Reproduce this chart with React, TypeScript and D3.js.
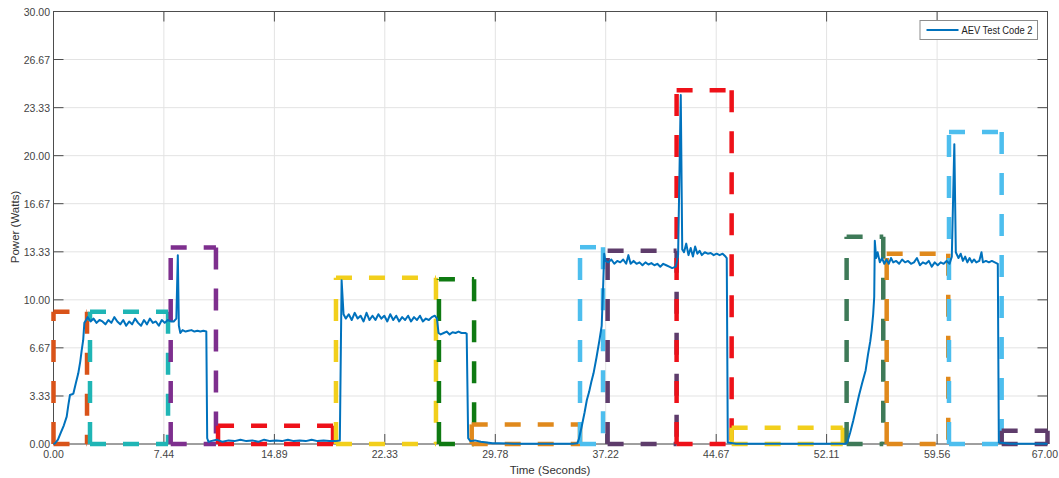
import React from 'react';
import * as d3 from 'd3';

// tick labels as shown on the axes
const xTickLabels = ['0.00', '7.44', '14.89', '22.33', '29.78', '37.22', '44.67', '52.11', '59.56', '67.00'];
const yTickLabels = ['0.00', '3.33', '6.67', '10.00', '13.33', '16.67', '20.00', '23.33', '26.67', '30.00'];

// measured trace [time s, power W], split per phase
const rampUp1 = [
  [0.0, 0.0], [0.1, 0.05], [0.3, 0.3], [0.5, 0.8], [0.7, 1.3], [0.89, 1.9], [1.0, 2.7], [1.11, 3.4],
  [1.25, 3.45], [1.34, 3.5], [1.5, 4.2], [1.67, 4.9], [1.8, 5.7], [1.9, 6.5], [2.0, 7.2], [2.08, 8.4], [2.2, 8.6],
];
const cruise1 = [
  [2.3, 8.8], [2.5, 8.5], [2.7, 8.7], [2.9, 8.4], [3.1, 8.6], [3.3, 8.5], [3.5, 8.3], [3.7, 8.6], [3.9, 8.4],
  [4.1, 8.8], [4.3, 8.5], [4.5, 8.3], [4.7, 8.6], [4.9, 8.2], [5.1, 8.5], [5.3, 8.3], [5.5, 8.7], [5.7, 8.4],
  [5.9, 8.2], [6.1, 8.6], [6.3, 8.3], [6.5, 8.7], [6.7, 8.4], [6.9, 8.5], [7.1, 8.2], [7.3, 8.6], [7.5, 8.4],
  [7.7, 8.6], [7.9, 8.5], [8.1, 8.5], [8.28, 8.7], [8.38, 13.1], [8.45, 8.2], [8.55, 7.7],
];
const cruise2 = [
  [8.7, 7.9], [8.9, 7.8], [9.1, 7.85], [9.3, 7.9], [9.5, 7.8], [9.7, 7.85], [9.9, 7.8], [10.1, 7.85], [10.3, 7.8],
  [10.36, 0.4], [10.45, 0.15],
];
const idle1 = [
  [10.6, 0.2], [11.0, 0.3], [11.4, 0.15], [11.8, 0.25], [12.2, 0.2], [12.6, 0.3], [13.0, 0.2], [13.4, 0.25],
  [13.8, 0.15], [14.2, 0.3], [14.6, 0.2], [15.0, 0.25], [15.4, 0.2], [15.8, 0.3], [16.2, 0.2], [16.6, 0.25],
  [17.0, 0.2], [17.4, 0.3], [17.8, 0.2], [18.2, 0.25], [18.6, 0.2], [19.0, 0.2], [19.3, 0.25], [19.42, 11.35], [19.55, 9.0],
];
const cruise3 = [
  [19.7, 8.7], [19.9, 9.0], [20.1, 8.6], [20.3, 9.1], [20.5, 8.7], [20.7, 8.9], [20.9, 8.5], [21.1, 9.1],
  [21.3, 8.6], [21.5, 8.9], [21.7, 8.6], [21.9, 9.0], [22.1, 8.7], [22.3, 8.9], [22.5, 8.5], [22.7, 9.0],
  [22.9, 8.6], [23.1, 8.9], [23.3, 8.5], [23.5, 8.8], [23.7, 8.6], [23.9, 8.9], [24.1, 8.5], [24.3, 8.8],
  [24.5, 8.6], [24.7, 8.9], [24.9, 8.5], [25.1, 8.7], [25.3, 8.6], [25.5, 8.8], [25.7, 8.9], [25.85, 8.7], [25.95, 7.7],
];
const cruise4 = [
  [26.1, 7.6], [26.3, 7.7], [26.5, 7.8], [26.7, 7.6], [26.9, 7.75], [27.1, 7.7], [27.3, 7.8], [27.5, 7.7],
  [27.75, 7.7], [27.85, 7.65], [27.95, 0.4], [28.1, 0.2],
];
const idle2 = [
  [28.4, 0.25], [28.8, 0.15], [29.2, 0.1], [29.6, 0.05], [30.0, 0.05], [31.0, 0.02], [32.0, 0.02], [33.0, 0.02],
  [34.0, 0.02], [35.0, 0.02], [35.3, 0.05],
];
const rampUp2 = [
  [35.4, 0.3], [35.6, 1.2], [35.8, 2.2], [35.95, 3.05], [36.1, 3.6], [36.25, 4.3], [36.4, 4.9], [36.6, 6.0],
  [36.8, 7.2], [36.95, 8.2], [37.05, 11.0], [37.12, 13.2], [37.2, 12.7],
];
const cruise5 = [
  [37.4, 12.6], [37.6, 12.8], [37.8, 12.5], [38.0, 12.7], [38.2, 12.6], [38.4, 12.8], [38.6, 12.5], [38.75, 13.1],
  [38.9, 12.5], [39.1, 12.7], [39.3, 12.5], [39.5, 12.6], [39.7, 12.4], [39.9, 12.6], [40.1, 12.45], [40.3, 12.55],
  [40.5, 12.4], [40.7, 12.5], [40.9, 12.3], [41.1, 12.5], [41.3, 12.4], [41.5, 12.3], [41.7, 12.2], [41.95, 12.3],
  [42.1, 13.1], [42.28, 24.2], [42.38, 13.5],
];
const cruise6 = [
  [42.5, 13.3], [42.65, 13.9], [42.8, 13.1], [42.95, 13.6], [43.1, 13.0], [43.25, 13.7], [43.4, 13.2], [43.55, 13.4],
  [43.7, 13.1], [43.9, 13.3], [44.1, 13.2], [44.3, 13.25], [44.5, 13.1], [44.7, 13.2], [44.9, 13.1], [45.1, 13.2],
  [45.3, 13.0], [45.38, 12.9], [45.45, 0.1],
];
const idle3 = [[46.0, 0.02], [48.0, 0.02], [50.0, 0.02], [52.0, 0.02], [53.4, 0.02]];
const rampUp3 = [
  [53.5, 0.1], [53.7, 0.8], [53.9, 1.6], [54.07, 2.36], [54.3, 3.4], [54.5, 4.2], [54.74, 5.1], [54.9, 6.2],
  [55.05, 7.1], [55.15, 7.9], [55.25, 9.0], [55.32, 10.2], [55.36, 14.1], [55.45, 12.9],
];
const cruise7 = [
  [55.55, 13.3], [55.7, 12.6], [55.85, 12.9], [56.0, 12.5], [56.15, 12.8], [56.3, 12.5], [56.45, 12.9], [56.6, 12.6],
  [56.8, 12.7], [57.0, 12.5], [57.2, 12.8], [57.4, 12.6], [57.6, 12.7], [57.8, 12.5], [58.0, 12.6], [58.2, 12.9],
  [58.4, 12.4], [58.6, 12.6], [58.8, 12.5], [59.0, 12.7], [59.2, 12.3], [59.4, 12.6], [59.6, 12.4], [59.8, 12.6],
  [60.0, 12.5], [60.2, 12.7], [60.4, 12.5], [60.55, 13.0], [60.72, 20.8], [60.82, 13.3],
];
const cruise8 = [
  [61.0, 12.9], [61.15, 13.2], [61.3, 12.7], [61.45, 13.0], [61.6, 12.6], [61.75, 12.9], [61.9, 12.6], [62.05, 12.8],
  [62.2, 12.6], [62.4, 12.7], [62.55, 13.3], [62.65, 12.6], [62.85, 12.7], [63.05, 12.6], [63.25, 12.7], [63.45, 12.6],
  [63.65, 12.5], [63.72, 0.1], [64.5, 0.02], [66.0, 0.02], [67.0, 0.02],
];

// dashed phase windows: start s, end s, height W
const phaseStart = [0.0, 2.46, 7.9, 11.09, 19.04, 25.98, 28.19, 35.49, 37.35, 42.0, 45.71, 53.46, 56.16, 60.36, 63.91];
const phaseEnd = [2.26, 7.72, 10.95, 18.84, 25.78, 28.35, 35.49, 37.04, 42.0, 45.71, 53.2, 55.93, 60.31, 63.91, 67.0];
const phaseTop = [9.17, 9.17, 13.63, 1.27, 11.53, 11.43, 1.36, 13.65, 13.4, 24.53, 1.13, 14.37, 13.2, 21.64, 0.92];
const phaseColor = [
  '#d95319', '#1fb5b5', '#7e2f8e', '#ee1119', '#f2cf1c', '#0f7a12', '#e0891c', '#4dbeee',
  '#5e3c6b', '#ee1119', '#f2cf1c', '#3e7a58', '#e0891c', '#4dbeee', '#5e3c6b',
];

const trace = [
  ...rampUp1, ...cruise1, ...cruise2, ...idle1, ...cruise3, ...cruise4, ...idle2, ...rampUp2,
  ...cruise5, ...cruise6, ...idle3, ...rampUp3, ...cruise7, ...cruise8,
];

const W = 1059;
const H = 478;
const left = 53.5, right = 1047.5, top = 11.5, bottom = 444;

export default function App() {
  const x = d3.scaleLinear().domain([0, 67]).range([left, right]);
  const y = d3.scaleLinear().domain([0, 30]).range([bottom, top]);
  const line = d3.line<number[]>().x(d => x(d[0])).y(d => y(d[1]));
  const font = '"Liberation Sans", Arial, sans-serif';
  const frame = '#4d4d4d';
  const vDash = '22 19';
  const hDash = '16 17';

  return (
    <svg width={W} height={H} style={{ position: 'absolute', left: 0, top: 0, background: '#fff' }}>
      <rect x={0} y={0} width={W} height={H} fill="#fff" />
      {/* grid */}
      {xTickLabels.map(t => (
        <line key={'gx' + t} x1={x(+t)} x2={x(+t)} y1={top} y2={bottom} stroke="#e3e3e3" />
      ))}
      {yTickLabels.map(t => (
        <line key={'gy' + t} x1={left} x2={right} y1={y(+t)} y2={y(+t)} stroke="#e3e3e3" />
      ))}
      {/* frame and ticks */}
      <rect x={left} y={top} width={right - left} height={bottom - top} fill="none" stroke={frame} />
      {xTickLabels.map((t, i) => {
        const last = i === xTickLabels.length - 1;
        return (
          <g key={'tx' + t}>
            <line x1={x(+t)} x2={x(+t)} y1={bottom} y2={bottom - 10} stroke={frame} />
            <line x1={x(+t)} x2={x(+t)} y1={top} y2={top + 10} stroke={frame} />
            <text x={last ? W - 1 : x(+t)} y={458} textAnchor={last ? 'end' : 'middle'}
              fontFamily={font} fontSize={10.5} fill="#444">{t}</text>
          </g>
        );
      })}
      {yTickLabels.map(t => (
        <g key={'ty' + t}>
          <line x1={left} x2={left + 10} y1={y(+t)} y2={y(+t)} stroke={frame} />
          <line x1={right} x2={right - 10} y1={y(+t)} y2={y(+t)} stroke={frame} />
          <text x={50} y={y(+t) + 4} textAnchor="end" fontFamily={font} fontSize={10.5} fill="#444">{t}</text>
        </g>
      ))}
      {/* phase windows */}
      {phaseStart.map((s, i) => {
        const x0 = x(s), x1 = x(phaseEnd[i]), yt = y(phaseTop[i]), y0 = y(0);
        const c = phaseColor[i];
        const common = { stroke: c, strokeWidth: 4.5, fill: 'none' };
        return (
          <g key={'ph' + i}>
            <path d={`M${x0},${y0}V${yt}`} {...common} strokeDasharray={vDash} />
            <path d={`M${x0},${yt}H${x1}`} {...common} strokeDasharray={hDash} />
            <path d={`M${x1},${yt}V${y0}`} {...common} strokeDasharray={vDash} />
            <path d={`M${x0},${y0}H${x1}`} {...common} strokeDasharray={hDash} />
          </g>
        );
      })}
      {/* trace */}
      <path d={line(trace) || ''} fill="none" stroke="#0072bd" strokeWidth={2} strokeLinejoin="round" />
      {/* axis titles */}
      <text x={550} y={474} textAnchor="middle" fontFamily={font} fontSize={11.5} fill="#333">Time (Seconds)</text>
      <text transform={`translate(19,227) rotate(-90)`} textAnchor="middle" fontFamily={font} fontSize={11.5} fill="#333">Power (Watts)</text>
      {/* legend */}
      <rect x={920} y={20.5} width={117.5} height={19} fill="#fff" stroke="#8c8c8c" />
      <line x1={926.5} x2={958.5} y1={30} y2={30} stroke="#0072bd" strokeWidth={2} />
      <text x={961.5} y={33.5} fontFamily={font} fontSize={10} textLength={71} lengthAdjust="spacingAndGlyphs" fill="#222">AEV Test Code 2</text>
    </svg>
  );
}
